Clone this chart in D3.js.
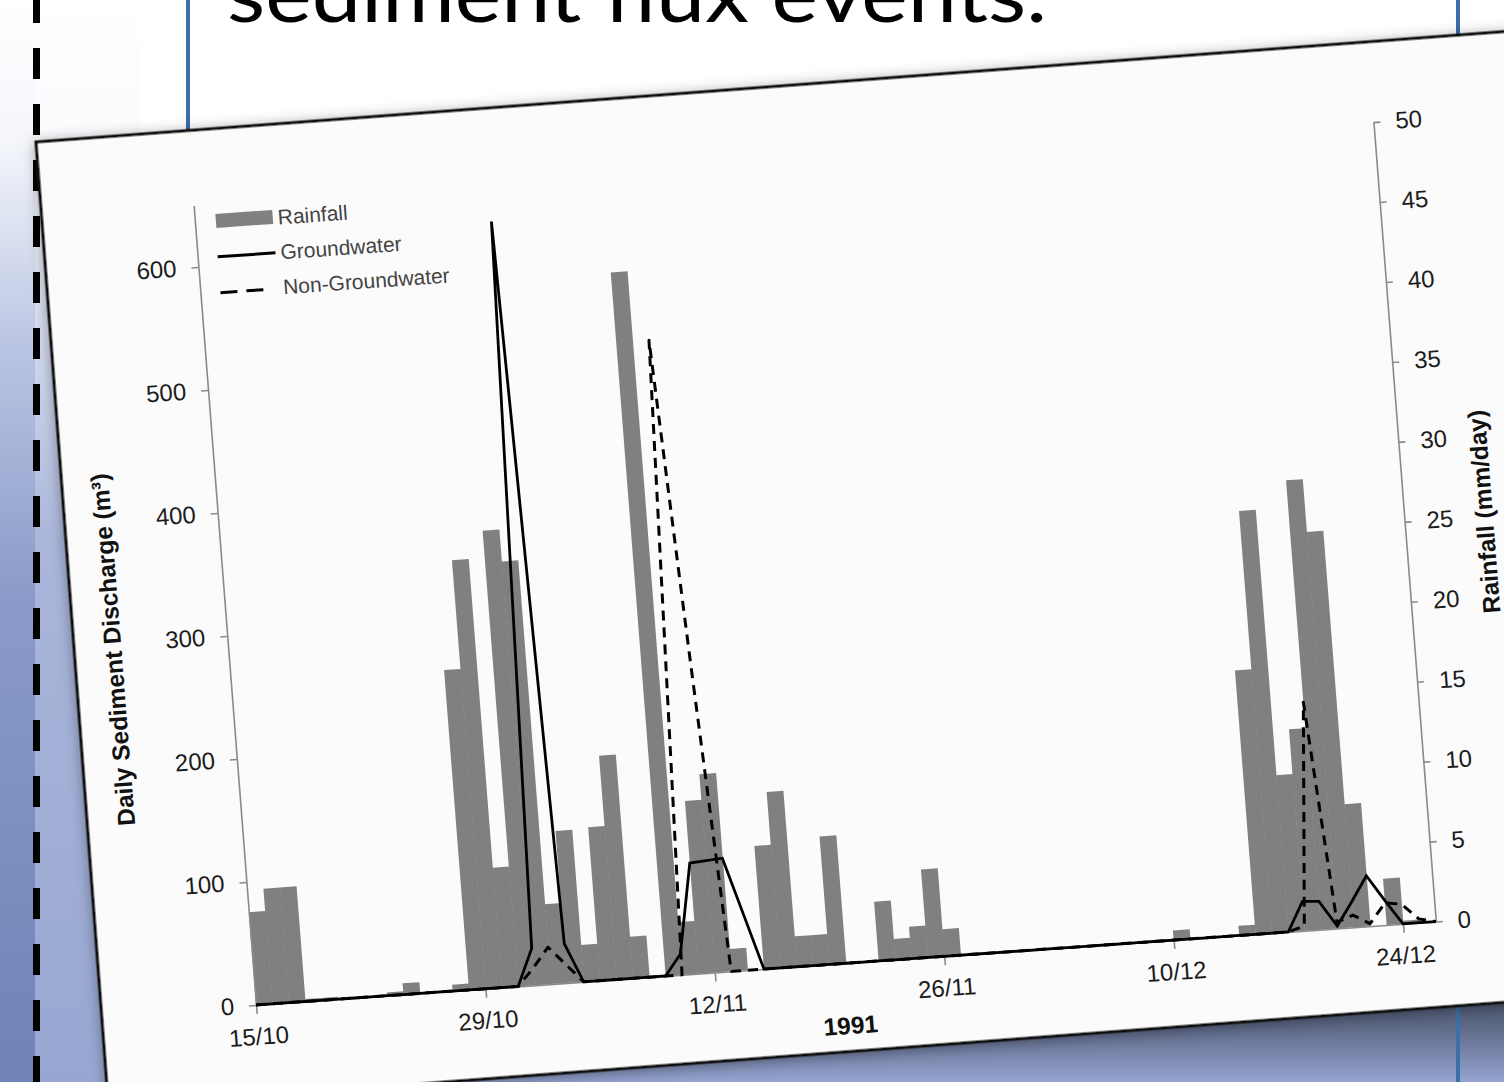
<!DOCTYPE html>
<html>
<head>
<meta charset="utf-8">
<script src="https://cdn.jsdelivr.net/npm/d3@7"></script>
<style>
  html, body { margin: 0; padding: 0; background: #ffffff; }
  svg { display: block; }
</style>
</head>
<body>
<svg id="slide" width="1504" height="1082"></svg>
<script>
// ---- data: daily series from 15/10/1991 (index 0) ----
const titleText = "sediment flux events.";
const tickDays = [0, 14, 28, 42, 56, 70];
const tickLabels = ["15/10", "29/10", "12/11", "26/11", "10/12", "24/12"];
const leftTicks = [0, 100, 200, 300, 400, 500, 600];
const rightTicks = [0, 5, 10, 15, 20, 25, 30, 35, 40, 45, 50];

// rainfall, mm/day (one bar per day, 15/10 .. 25/12)
const rainfall = [
  5.8, 7.2, 7.2, 0.15, 0.15, 0, 0, 0, 0.2, 0.7, 0, 0, 0.4,
  20.0, 26.8, 7.5, 28.5, 26.5, 5.0, 9.5, 2.3, 9.6, 14.0, 2.6, 0, 44.0, 3.3, 10.8, 12.4,
  1.4, 0, 7.7, 11.0, 1.9, 1.9, 8.0, 0, 0, 3.7, 1.3, 2.0, 5.5, 1.7,
  0, 0, 0, 0, 0, 0, 0, 0, 0, 0, 0, 0, 0,
  0.6, 0, 0, 0, 0.6,
  16.5, 26.4, 9.8, 12.6, 28.1, 24.8, 7.7, 0, 2.9, 0.2, 0
];

// daily sediment discharge, m3 (15/10 .. 26/12)
const groundwater = [
  0, 0, 0, 0, 0, 0, 0, 0, 0, 0, 0, 0, 0, 0, 0, 0,
  0, 30, 620, 32,
  0, 0, 0, 0, 0, 0,
  17, 90, 91, 92, 46,
  0, 0, 0, 0, 0, 0, 0, 0, 0, 0, 0, 0, 0, 0, 0, 0, 0,
  0, 0, 0, 0, 0, 0, 0, 0, 0, 0, 0, 0, 0, 0, 0, 0,
  24, 23, 2, 21, 41, 20,
  0, 0, 0
];
const nonGroundwater = [
  0, 0, 0, 0, 0, 0, 0, 0, 0, 0, 0, 0, 0, 0, 0, 0, 0,
  14, 30, 15,
  0, 0, 0, 0, 0, 0, 0,
  515, 250,
  0, 0, 0, 0, 0, 0, 0, 0, 0, 0, 0, 0, 0, 0, 0, 0, 0, 0,
  0, 0, 0, 0, 0, 0, 0, 0, 0, 0, 0, 0, 0, 0, 0, 0, 0,
  4, 185, 5, 10, 2, 18, 16, 3, 0
];

// ---- slide ----
const svg = d3.select("#slide");
const defs = svg.append("defs");

function vGrad(id, stops) {
  const g = defs.append("linearGradient").attr("id", id)
    .attr("x1", 0).attr("y1", 0).attr("x2", 0).attr("y2", 1);
  stops.forEach(([o, c]) => g.append("stop").attr("offset", o).attr("stop-color", c));
}
vGrad("panelLight", [[0, "#ffffff"], [0.12, "#fafbfd"], [0.3, "#d6dcee"], [0.5, "#aab6da"], [1, "#98a7d2"]]);
vGrad("panelDark", [[0, "#ffffff"], [0.13, "#f4f6fb"], [0.32, "#bac5e3"], [0.55, "#8a9bc9"], [1, "#7083b7"]]);
vGrad("bottomBand", [[0, "#3c475f"], [0.45, "#5d6885"], [1, "#94a3d0"]]);

const shadow = defs.append("filter").attr("id", "cardShadow")
  .attr("x", "-5%").attr("y", "-5%").attr("width", "110%").attr("height", "110%");
shadow.append("feDropShadow").attr("dx", 0).attr("dy", 2)
  .attr("stdDeviation", 7).attr("flood-color", "#000").attr("flood-opacity", 0.35);

svg.append("rect").attr("width", 1504).attr("height", 1082).attr("fill", "#ffffff");
svg.append("rect").attr("x", 0).attr("y", 980).attr("width", 1504).attr("height", 102)
  .attr("fill", "url(#bottomBand)");
svg.append("rect").attr("x", 0).attr("y", 0).attr("width", 140).attr("height", 1082)
  .attr("fill", "url(#panelLight)");
svg.append("rect").attr("x", 0).attr("y", 0).attr("width", 35).attr("height", 1082)
  .attr("fill", "url(#panelDark)");

// text box borders
svg.append("line").attr("x1", 188).attr("y1", 0).attr("x2", 188).attr("y2", 200)
  .attr("stroke", "#3c6ea7").attr("stroke-width", 4);
svg.append("line").attr("x1", 1458).attr("y1", 0).attr("x2", 1458).attr("y2", 1082)
  .attr("stroke", "#3c6ea7").attr("stroke-width", 4);

svg.append("text").attr("x", 227).attr("y", 22)
  .attr("font-family", "Lato, 'Open Sans', sans-serif").attr("font-size", 78)
  .attr("textLength", 820).attr("lengthAdjust", "spacingAndGlyphs")
  .attr("fill", "#000").text(titleText);

// dashed divider
svg.append("line").attr("x1", 36.5).attr("y1", 0).attr("x2", 36.5).attr("y2", 1082)
  .attr("stroke", "#000").attr("stroke-width", 7)
  .attr("stroke-dasharray", "31 25").attr("stroke-dashoffset", 8);

// photo card
svg.append("g").attr("transform", "translate(36,142) rotate(-4.3)")
  .append("rect").attr("x", 0).attr("y", 0).attr("width", 1600).attr("height", 968)
  .attr("fill", "#fbfbfb").attr("stroke", "#111").attr("stroke-width", 3)
  .attr("filter", "url(#cardShadow)");

// ---- chart (plotted in its own frame, then tilted with the card) ----
const W = 1183, H = 803;
const chart = svg.append("g")
  .attr("transform", "matrix(0.9973,-0.0705,0.0777,0.9956,193.6,205.5)");

const x = d3.scaleLinear().domain([0, 72]).range([0, W]);
const yL = d3.scaleLinear().domain([0, 650]).range([H, 0]);
const yR = d3.scaleLinear().domain([0, 50]).range([H, 0]);

const fontAxis = "'Liberation Sans', Arial, sans-serif";

// rainfall bars
chart.append("g").selectAll("rect").data(rainfall).join("rect")
  .attr("x", (d, i) => x(i))
  .attr("width", (d, i) => x(i + 1) - x(i) + 0.4)
  .attr("y", d => yR(d))
  .attr("height", d => H - yR(d))
  .attr("fill", "#808080");

function styleAxis(g) {
  g.select(".domain").attr("stroke", "#8a8a8a").attr("stroke-width", 1.6);
  g.selectAll(".tick line").attr("stroke", "#8a8a8a").attr("stroke-width", 1.6);
  g.selectAll(".tick text").attr("fill", "#1c1c1c")
    .attr("font-family", fontAxis).attr("font-size", 24);
}

chart.append("g")
  .call(d3.axisLeft(yL).tickValues(leftTicks).tickSize(7).tickSizeOuter(0).tickPadding(15))
  .call(styleAxis);

chart.append("g").attr("transform", `translate(${W},0)`)
  .call(d3.axisRight(yR).tickValues(rightTicks).tickSize(7).tickSizeOuter(0).tickPadding(15))
  .call(styleAxis);

chart.append("g").attr("transform", `translate(0,${H})`)
  .call(d3.axisBottom(x).tickValues(tickDays).tickFormat((d, i) => tickLabels[i])
    .tickSize(9).tickSizeOuter(0).tickPadding(14))
  .call(styleAxis);

// discharge lines
const line = d3.line().x((d, i) => x(i)).y(d => yL(d));
chart.append("path").datum(nonGroundwater).attr("d", line)
  .attr("fill", "none").attr("stroke", "#000").attr("stroke-width", 3)
  .attr("stroke-dasharray", "10 7").attr("stroke-linejoin", "round");
chart.append("path").datum(groundwater).attr("d", line)
  .attr("fill", "none").attr("stroke", "#000").attr("stroke-width", 2.8)
  .attr("stroke-linejoin", "miter");

// axis titles
chart.append("text")
  .attr("transform", "translate(-115,438) rotate(-90)")
  .attr("text-anchor", "middle").attr("dominant-baseline", "central")
  .attr("font-family", fontAxis).attr("font-weight", "bold").attr("font-size", 24.5)
  .attr("fill", "#111").text("Daily Sediment Discharge (m³)");
chart.append("text")
  .attr("transform", "translate(1263,397) rotate(-90)")
  .attr("text-anchor", "middle").attr("dominant-baseline", "central")
  .attr("font-family", fontAxis).attr("font-weight", "bold").attr("font-size", 24.5)
  .attr("fill", "#111").text("Rainfall (mm/day)");
chart.append("text")
  .attr("x", x(36)).attr("y", 874).attr("text-anchor", "middle")
  .attr("font-family", fontAxis).attr("font-weight", "bold").attr("font-size", 24.5)
  .attr("fill", "#111").text("1991");

// legend
const legend = chart.append("g").attr("font-family", fontAxis)
  .attr("font-size", 21).attr("fill", "#444");
legend.append("rect").attr("x", 21).attr("y", 10).attr("width", 57).attr("height", 14)
  .attr("fill", "#808080");
legend.append("text").attr("x", 83).attr("y", 25).text("Rainfall");
legend.append("line").attr("x1", 20).attr("x2", 78).attr("y1", 53).attr("y2", 53)
  .attr("stroke", "#000").attr("stroke-width", 3);
legend.append("text").attr("x", 83).attr("y", 60).text("Groundwater");
legend.append("line").attr("x1", 20).attr("x2", 63).attr("y1", 89).attr("y2", 89)
  .attr("stroke", "#000").attr("stroke-width", 3).attr("stroke-dasharray", "17 9");
legend.append("text").attr("x", 83).attr("y", 95).text("Non-Groundwater");
</script>
</body>
</html>
